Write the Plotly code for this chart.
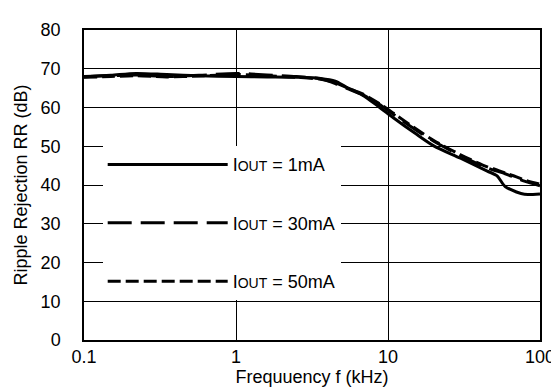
import plotly.graph_objects as go

freq_khz = [0.1, 0.15, 0.22, 0.35, 0.57, 1.0, 1.6, 2.5, 3.6, 4.5, 5.3, 6.8, 8.7, 10.9, 15, 20, 30, 45, 52, 59, 70, 79, 100]

rr_1ma = [67.9, 68.3, 68.8, 68.5, 68.2, 68.0, 67.9, 67.8, 67.5, 66.8, 65.3, 63.2, 60.2, 57.3, 53.4, 50.1, 46.9, 43.6, 42.4, 39.6, 38.2, 37.6, 37.7]
rr_30ma = [68.0, 68.2, 68.4, 68.0, 68.3, 68.8, 68.4, 68.0, 67.4, 66.2, 65.0, 63.3, 60.9, 58.2, 54.4, 51.3, 47.6, 44.4, 43.6, 42.9, 41.8, 41.0, 39.8]
rr_50ma = [67.8, 68.0, 68.2, 67.9, 68.1, 68.5, 68.2, 67.8, 67.3, 66.4, 65.2, 63.5, 61.1, 58.5, 54.7, 51.5, 47.8, 44.7, 43.9, 43.1, 42.1, 41.3, 40.2]

x_ticks = [0.1, 1, 10, 100]
x_ticklabels = ["0.1", "1", "10", "100"]

series = [
    ("1mA", rr_1ma, "solid"),
    ("30mA", rr_30ma, "24px,9px"),
    ("50mA", rr_50ma, "13px,5px"),
]

fig = go.Figure()
for i, (name, vals, dash) in enumerate(series):
    fig.add_trace(
        go.Scatter(
            x=freq_khz,
            y=vals,
            mode="lines",
            line=dict(color="black", width=3, dash=dash, shape="spline", smoothing=0.8),
            name="I<span style='font-size:14px'>OUT</span> = " + name,
            legendgroup=str(i),
        )
    )

fig.update_layout(
    width=559,
    height=390,
    margin=dict(l=75, r=17, t=13, b=58),
    plot_bgcolor="white",
    paper_bgcolor="white",
    font=dict(family="Arial", size=18, color="black"),
    legend=dict(
        x=0.041,
        y=0.625,
        xanchor="left",
        yanchor="top",
        bgcolor="white",
        itemwidth=120,
        tracegroupgap=32,
        font=dict(size=18),
    ),
    xaxis=dict(
        type="log",
        range=[-1, 2],
        tickvals=x_ticks,
        ticktext=x_ticklabels,
        showgrid=True,
        gridcolor="black",
        gridwidth=1,
        showline=True,
        linecolor="black",
        linewidth=1.5,
        mirror=True,
        ticks="",
        tickfont=dict(size=18),
        title=dict(text="Frequuency f (kHz)", font=dict(size=18), standoff=0),
    ),
    yaxis=dict(
        range=[0, 80],
        dtick=10,
        showgrid=True,
        gridcolor="black",
        gridwidth=1,
        showline=True,
        linecolor="black",
        linewidth=1.5,
        mirror=True,
        ticks="",
        ticklabelstandoff=18,
        zeroline=False,
        tickfont=dict(size=18),
        title=dict(text="Ripple Rejection RR (dB)", font=dict(size=18), standoff=8),
    ),
)

fig.write_html("out.html")
